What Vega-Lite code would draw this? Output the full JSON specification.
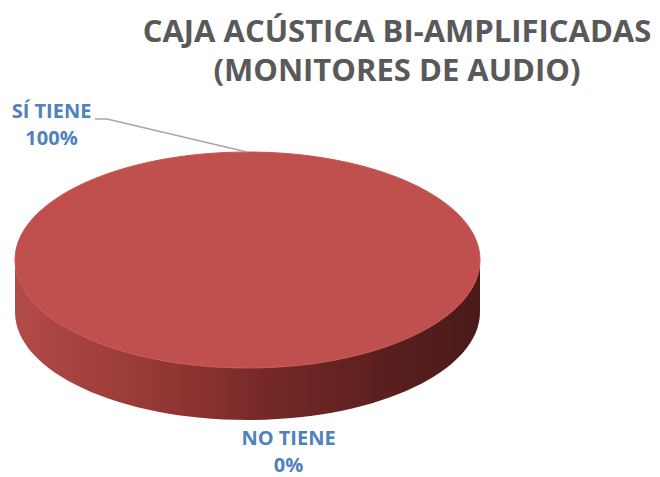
{
  "$schema": "https://vega.github.io/schema/vega-lite/v6.json",
  "width": 495,
  "height": 320,
  "autosize": {"type": "none"},
  "padding": {"left": 0, "top": 100, "right": 165, "bottom": 57},
  "background": "white",
  "config": {"view": {"stroke": null}},
  "title": {
    "text": ["CAJA ACÚSTICA BI-AMPLIFICADAS", "(MONITORES DE AUDIO)"],
    "font": "Open Sans",
    "fontSize": 31,
    "fontWeight": "bold",
    "color": "#595959",
    "anchor": "middle",
    "dx": 149.5,
    "lineHeight": 39,
    "offset": 12
  },
  "data": {
    "values": [
      {"categoria": "SÍ TIENE", "valor": 1},
      {"categoria": "NO TIENE", "valor": 0}
    ]
  },
  "layer": [
    {
      "transform": [{"filter": "datum.valor > 0"}],
      "mark": {
        "type": "point",
        "shape": "M -1 0 L -1 0.2237 C -1 0.4803 -0.5523 0.6882 0 0.6882 C 0.5523 0.6882 1 0.4803 1 0.2237 L 1 0 C 1 0.2566 0.5523 0.4645 0 0.4645 C -0.5523 0.4645 -1 0.2566 -1 0 Z",
        "filled": true,
        "size": 216225,
        "opacity": 1,
        "strokeWidth": 0,
        "fill": {
          "gradient": "linear",
          "x1": 0, "y1": 0, "x2": 1, "y2": 0,
          "stops": [
            {"offset": 0, "color": "#B24B48"},
            {"offset": 0.3, "color": "#963835"},
            {"offset": 0.55, "color": "#742927"},
            {"offset": 0.8, "color": "#5A1F1F"},
            {"offset": 1, "color": "#4A1A1A"}
          ]
        }
      },
      "encoding": {}
    },
    {
      "transform": [{"filter": "datum.valor > 0"}],
      "mark": {
        "type": "point",
        "shape": "M -1 0 C -1 -0.2566 -0.5523 -0.4645 0 -0.4645 C 0.5523 -0.4645 1 -0.2566 1 0 C 1 0.2566 0.5523 0.4645 0 0.4645 C -0.5523 0.4645 -1 0.2566 -1 0 Z",
        "filled": true,
        "size": 216225,
        "opacity": 1,
        "stroke": "#C95753",
        "strokeWidth": 1
      },
      "encoding": {
        "color": {
          "field": "categoria",
          "type": "nominal",
          "scale": {"domain": ["SÍ TIENE", "NO TIENE"], "range": ["#C0504D", "#4F81BD"]},
          "legend": null
        }
      }
    },
    {
      "transform": [{"filter": "datum.valor > 0"}],
      "mark": {
        "type": "point",
        "shape": "M -1.525 -1.41 L -1.405 -1.41 L -0.005 -1.08",
        "filled": false,
        "size": 40000,
        "stroke": "#A6A6A6",
        "strokeWidth": 1.3,
        "opacity": 1
      },
      "encoding": {}
    },
    {
      "mark": {
        "type": "text",
        "font": "Open Sans",
        "fontSize": 20,
        "fontWeight": "bold",
        "color": "#4F81BD",
        "baseline": "middle",
        "align": "center",
        "dy": -13.5
      },
      "encoding": {
        "theta": {"field": "valor", "type": "quantitative", "stack": true, "scale": {"domain": [0, 1], "range": [2.9322, 7.6954]}},
        "radius": {"field": "valor", "type": "quantitative", "scale": {"type": "linear", "domain": [0, 1], "range": [197.3, 237.7], "zero": false}},
        "order": {"field": "valor", "type": "quantitative", "sort": "ascending"},
        "detail": {"field": "categoria", "type": "nominal"},
        "text": {"field": "categoria", "type": "nominal"}
      }
    },
    {
      "mark": {
        "type": "text",
        "font": "Open Sans",
        "fontSize": 20,
        "fontWeight": "bold",
        "color": "#4F81BD",
        "baseline": "middle",
        "align": "center",
        "dy": 13.5
      },
      "encoding": {
        "theta": {"field": "valor", "type": "quantitative", "stack": true, "scale": {"domain": [0, 1], "range": [2.9322, 7.6954]}},
        "radius": {"field": "valor", "type": "quantitative", "scale": {"type": "linear", "domain": [0, 1], "range": [197.3, 237.7], "zero": false}},
        "order": {"field": "valor", "type": "quantitative", "sort": "ascending"},
        "detail": {"field": "categoria", "type": "nominal"},
        "text": {"field": "valor", "type": "quantitative", "format": ".0%"}
      }
    }
  ]
}
